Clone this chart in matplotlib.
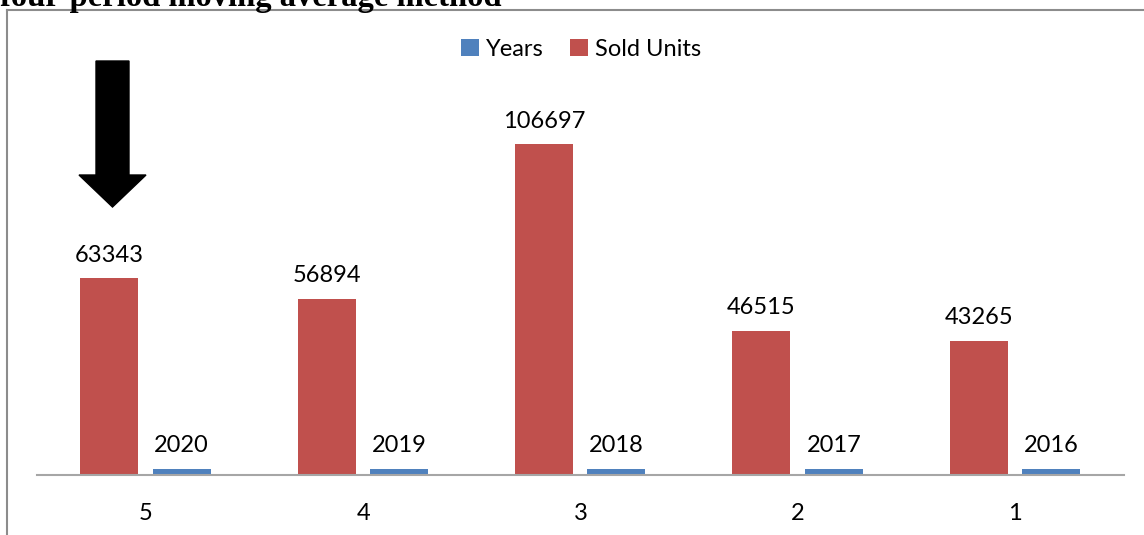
import matplotlib
matplotlib.use("Agg")
import matplotlib.pyplot as plt
import numpy as np
from matplotlib.patches import Polygon
from matplotlib.lines import Line2D

categories = ["5", "4", "3", "2", "1"]
sold_units = [63343, 56894, 106697, 46515, 43265]
years = [2020, 2019, 2018, 2017, 2016]
title_text = "four-period moving average method"

W, H = 1144, 535
fig = plt.figure(figsize=(W / 100, H / 100), dpi=100)
plt.rcParams['font.family'] = ['Lato', 'DejaVu Sans']

# axes: x from 37 to 1124 px, bottom at y=475, top at y=20
ax_left, ax_right, ax_bottom, ax_top = 37, 1124, 475, 20
ax = fig.add_axes([ax_left / W, 1 - ax_bottom / H, (ax_right - ax_left) / W, (ax_bottom - ax_top) / H])
ymax = 106697 * (ax_bottom - ax_top) / 331.0
ax.set_ylim(0, ymax)
x = np.arange(len(categories))
ax.set_xlim(-0.5, len(categories) - 0.5)

bw = 0.267
red_c = "#C0504D"
blue_c = "#4F81BD"
b1 = ax.bar(x - 0.168, sold_units, bw, color=red_c, label="Sold Units", zorder=2)
b2 = ax.bar(x + 0.165, years, bw, color=blue_c, label="Years", zorder=2)

fs = 17
for rect, v in zip(b1, sold_units):
    ax.annotate(str(v), (rect.get_x() + rect.get_width() / 2, v), xytext=(0, 9),
                textcoords="offset points", ha="center", va="bottom", fontsize=fs, color="black")
for rect, v in zip(b2, years):
    ax.annotate(str(v), (rect.get_x() + rect.get_width() / 2, v), xytext=(0, 9),
                textcoords="offset points", ha="center", va="bottom", fontsize=fs, color="black")

for s in ["top", "right", "left"]:
    ax.spines[s].set_visible(False)
ax.spines["bottom"].set_color("#A6A6A6")
ax.spines["bottom"].set_linewidth(1.5)
ax.set_yticks([])
ax.set_xticks(x)
ax.set_xticklabels(categories, fontsize=fs)
ax.tick_params(axis="x", length=0, pad=20)

# legend
handles = [b2, b1]
leg = fig.legend(handles, ["Years", "Sold Units"], loc="center", bbox_to_anchor=(581 / W, 1 - 49 / H),
                 ncol=2, frameon=False, fontsize=fs, handlelength=0.75, handleheight=0.75,
                 handletextpad=0.3, columnspacing=1.1)

# frame
fig.add_artist(Line2D([7 / W, 7 / W], [0, 1 - 10 / H], color="#8C8C8C", lw=1.5, transform=fig.transFigure))
fig.add_artist(Line2D([7 / W, 1], [1 - 10 / H, 1 - 10 / H], color="#8C8C8C", lw=1.5, transform=fig.transFigure))

# arrow
pts = [(96, 61), (129, 61), (129, 175), (146, 175), (112.5, 207), (79, 175), (96, 175)]
poly = Polygon([(px / W, 1 - py / H) for px, py in pts], closed=True, color="black",
               transform=fig.transFigure)
fig.add_artist(poly)

# title (cut off at the top, as in the source)
fig.text(0.0, 1 - 6 / H, title_text, fontsize=23.5, fontweight="bold", family="Liberation Serif",
         ha="left", va="baseline")

fig.savefig("out.png", dpi=100)
